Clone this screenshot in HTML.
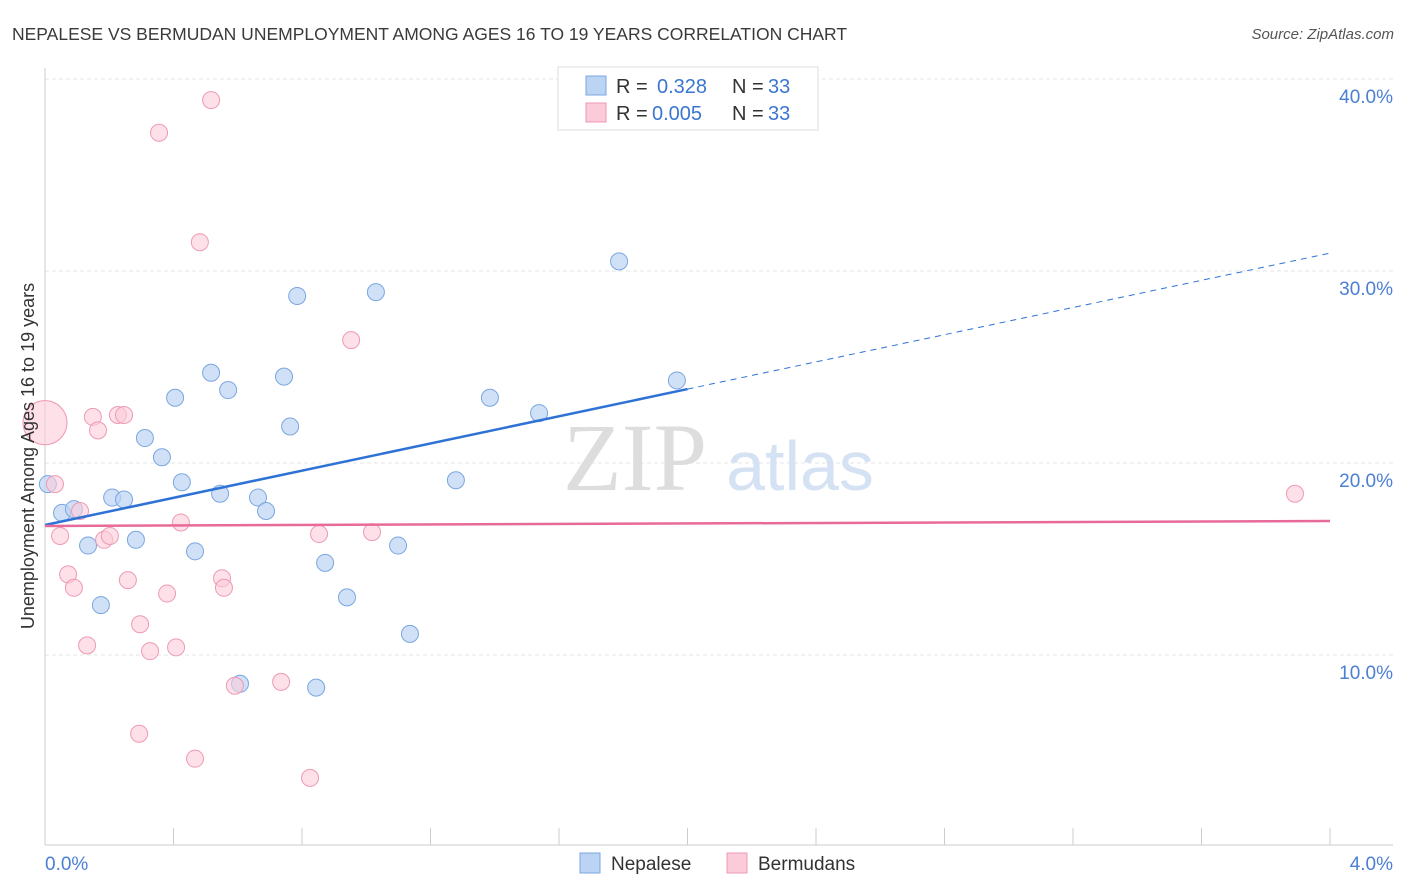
<!DOCTYPE html>
<html><head><meta charset="utf-8"><style>
body{margin:0;background:#fff;font-family:"Liberation Sans",sans-serif;}
</style></head><body>
<svg id="chart" width="1406" height="892" xmlns="http://www.w3.org/2000/svg" style="display:block">
<text x="12" y="40" font-size="17.5" fill="#3a3a3a">NEPALESE VS BERMUDAN UNEMPLOYMENT AMONG AGES 16 TO 19 YEARS CORRELATION CHART</text>
<text x="1394" y="39" font-size="15" fill="#555" text-anchor="end" font-style="italic">Source: ZipAtlas.com</text>
<g id="grid"></g>
<g>
<text x="635" y="490" font-size="96" fill="#ddd" font-family="Liberation Serif,serif" text-anchor="middle">ZIP</text>
<text x="800" y="490" font-size="70" fill="#d4e2f4" text-anchor="middle">atlas</text>
</g>
<g id="marks"></g>
<text transform="translate(34,456) rotate(-90)" font-size="18" fill="#333" text-anchor="middle">Unemployment Among Ages 16 to 19 years</text>
<text x="45" y="870" font-size="19" fill="#4a7fd4">0.0%</text>
<text x="1393" y="870" font-size="19" fill="#4a7fd4" text-anchor="end">4.0%</text>
<g>
<rect x="558" y="67" width="260" height="63" fill="#fff" stroke="#ddd"/>
<rect x="586" y="76" width="20" height="19" fill="#bcd4f4" stroke="#7aa6e0"/>
<rect x="586" y="103" width="20" height="19" fill="#fbcbd9" stroke="#ee9ab4"/>
<text x="616" y="93" font-size="20" fill="#333">R = <tspan x="657" fill="#3a76d0">0.328</tspan><tspan x="732">N = </tspan><tspan x="768" fill="#3a76d0">33</tspan></text>
<text x="616" y="120" font-size="20" fill="#333">R = <tspan x="652" fill="#3a76d0">0.005</tspan><tspan x="732">N = </tspan><tspan x="768" fill="#3a76d0">33</tspan></text>
</g>
<g>
<rect x="580" y="853" width="20" height="20" fill="#bcd4f4" stroke="#7aa6e0"/>
<text x="611" y="870" font-size="19" fill="#333">Nepalese</text>
<rect x="727" y="853" width="20" height="20" fill="#fbcbd9" stroke="#ee9ab4"/>
<text x="758" y="870" font-size="19" fill="#333">Bermudans</text>
</g>
</svg>
<script>
const yTicks=[10,20,30,40];
const yTickLabels=["10.0%","20.0%","30.0%","40.0%"];
const xTicks=[0,0.4,0.8,1.2,1.6,2.0,2.4,2.8,3.2,3.6,4.0];
const nepX=[0.009,0.053,0.090,0.134,0.174,0.209,0.246,0.283,0.311,0.364,0.405,0.426,0.467,0.517,0.545,0.570,0.607,0.663,0.688,0.744,0.763,0.785,0.844,0.872,0.940,1.030,1.099,1.136,1.279,1.385,1.538,1.787,1.967];
const nepY=[18.9,17.4,17.6,15.7,12.6,18.2,18.1,16.0,21.3,20.3,23.4,19.0,15.4,24.7,18.4,23.8,8.5,18.2,17.5,24.5,21.9,28.7,8.3,14.8,13.0,28.9,15.7,11.1,19.1,23.4,22.6,30.5,24.3];
const berX=[0,0.031,0.047,0.072,0.090,0.109,0.131,0.149,0.165,0.184,0.202,0.227,0.246,0.258,0.296,0.293,0.327,0.355,0.380,0.408,0.423,0.467,0.482,0.517,0.551,0.557,0.591,0.735,0.825,0.853,0.953,1.018,3.891];
const berY=[22.1,18.9,16.2,14.2,13.5,17.5,10.5,22.4,21.7,16.0,16.2,22.5,22.5,13.9,11.6,5.9,10.2,37.2,13.2,10.4,16.9,4.6,31.5,38.9,14.0,13.5,8.4,8.6,3.6,16.3,26.4,16.4,18.4];
const nepTrend=[16.77,30.93];
const berTrend=[16.72,16.98];
const NS="http://www.w3.org/2000/svg";
const X=v=>45+v*321.25, Y=v=>847-v*19.2;
function mk(t,a,p){const e=document.createElementNS(NS,t);for(const k in a)e.setAttribute(k,a[k]);p.appendChild(e);return e;}
const g=document.getElementById('grid'),m=document.getElementById('marks');
yTicks.forEach((t,i)=>{
 const l=mk('line',{x1:45,x2:1393,y1:Y(t),y2:Y(t),stroke:'#e6e6e6','stroke-dasharray':'4,3'},g);
 
 
 const tx=mk('text',{x:1393,y:Y(t)+24,'font-size':19,fill:'#4a7fd4','text-anchor':'end'},g);
 tx.textContent=yTickLabels[i];
 
 
});
const ax=mk('line',{x1:45,x2:1393,y1:845,y2:845,stroke:'#ccc'},g);


const ay=mk('line',{x1:45,x2:45,y1:68,y2:845,stroke:'#ccc'},g);


xTicks.forEach(t=>{const l=mk('line',{x1:X(t),x2:X(t),y1:828,y2:845,stroke:'#ccc'},g);
 
 });
nepX.forEach((x,i)=>{const c=mk('circle',{cx:X(x),cy:Y(nepY[i]),r:8.5,fill:'#bcd4f4','fill-opacity':0.7,stroke:'#7aa6e0','stroke-width':1},m);
 
 });
berX.forEach((x,i)=>{const c=mk('circle',{cx:X(x),cy:Y(berY[i]),r:i==0?22:8.5,fill:'#fbcbd9','fill-opacity':0.6,stroke:'#ee9ab4','stroke-width':1},m);
 
 });
const mid=nepTrend[0]+(nepTrend[1]-nepTrend[0])*0.5;
const t1=mk('line',{x1:X(0),y1:Y(nepTrend[0]),x2:X(2),y2:Y(mid),stroke:'#2f72d6','stroke-width':2.5},m);


const t2=mk('line',{x1:X(2),y1:Y(mid),x2:X(4),y2:Y(nepTrend[1]),stroke:'#2f72d6','stroke-width':1,'stroke-dasharray':'6,5'},m);


const t3=mk('line',{x1:X(0),y1:Y(berTrend[0]),x2:X(4),y2:Y(berTrend[1]),stroke:'#e86a98','stroke-width':2.5},m);


</script>
</body></html>
